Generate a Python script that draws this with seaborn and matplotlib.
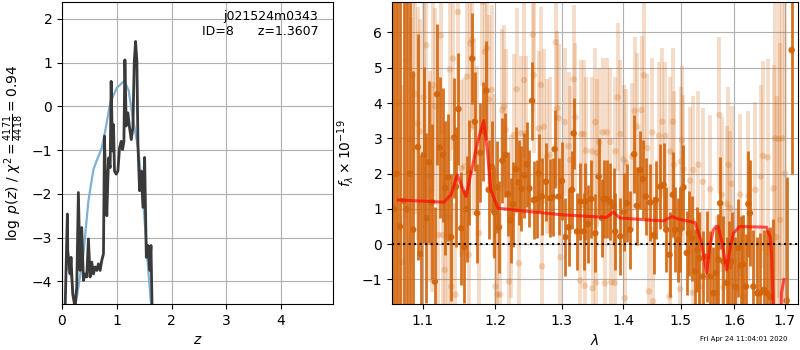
import numpy as np
import matplotlib
matplotlib.use("Agg")
import matplotlib.pyplot as plt
from matplotlib.ticker import FixedLocator, FormatStrFormatter, NullLocator
import seaborn as sns

# p(z) curve (black) and smooth prior-like curve (blue)
z_pz = [0.05, 0.098, 0.105, 0.147, 0.165, 0.195, 0.238, 0.269, 0.299, 0.33, 0.36, 0.391,
        0.421, 0.452, 0.482, 0.513, 0.543, 0.574, 0.604, 0.635, 0.665, 0.696, 0.726, 0.757,
        0.775, 0.80, 0.818, 0.849, 0.879, 0.897, 0.922, 0.94, 0.958, 0.989, 1.02, 1.05,
        1.081, 1.105, 1.13, 1.148, 1.172, 1.203, 1.233, 1.264, 1.294, 1.319, 1.343, 1.367,
        1.386, 1.416, 1.447, 1.478, 1.508, 1.539, 1.569, 1.60, 1.624, 1.65]
logp_pz = [-5.0, -2.46, -3.30, -3.83, -3.45, -4.28, -4.6, -4.13, -1.97, -3.75, -2.77, -3.98,
           -3.83, -3.9, -3.03, -3.9, -3.56, -3.83, -3.67, -3.75, -3.60, -3.75, -3.52, -3.37,
           -0.68, -2.01, -2.5, -1.18, -1.4, 0.57, -1.02, -0.42, -1.48, -1.55, -1.48, -0.95,
           -0.80, -0.99, -0.80, 1.06, -0.45, -0.15, -0.49, -0.76, -0.49, 1.02, 1.48, 1.02,
           -0.87, -1.93, -1.48, -2.31, -1.17, -3.45, -3.18, -3.75, -3.18, -5.0]

z_smooth = [0.085, 0.134, 0.208, 0.238, 0.299, 0.391, 0.482, 0.574, 0.665, 0.726, 0.788,
            0.879, 1.0, 1.136, 1.215, 1.276, 1.398, 1.49, 1.58, 1.624, 1.70]
logp_smooth = [-3.75, -3.52, -4.28, -4.6, -4.13, -3.37, -2.16, -1.44, -1.14, -0.95, -0.57,
               0.07, 0.42, 0.58, 0.37, -0.13, -1.03, -2.31, -3.83, -4.5, -6.0]

# spectrum, main points
wave_d = [1.062, 1.066, 1.070, 1.0752, 1.0787, 1.083, 1.0874, 1.0935, 1.0970, 1.1014,
          1.1045, 1.1080, 1.1120, 1.1159, 1.1190, 1.1226, 1.1270, 1.1300, 1.1340, 1.1380,
          1.1422, 1.1449, 1.1481, 1.1521, 1.1558, 1.1595, 1.1627, 1.1673, 1.1710, 1.1742,
          1.1789, 1.1830, 1.1873, 1.1906, 1.1950, 1.1990, 1.2026, 1.2054, 1.2103, 1.2146,
          1.2185, 1.2225, 1.2260, 1.2306, 1.2345, 1.2385, 1.2430, 1.2464, 1.2503, 1.2543,
          1.2569, 1.2619, 1.2644, 1.2695, 1.2756, 1.2823, 1.2860, 1.2890, 1.2952, 1.3004,
          1.3056, 1.3108, 1.3161, 1.3187, 1.3240, 1.3293, 1.3346, 1.3373, 1.3416, 1.3470,
          1.3535, 1.3589, 1.3643, 1.3670, 1.3725, 1.3780, 1.3835, 1.3863, 1.3946, 1.4002,
          1.4058, 1.4114, 1.4182, 1.4228, 1.4285, 1.4331, 1.4383, 1.4458, 1.4516, 1.4558,
          1.4634, 1.4692, 1.4739, 1.4798, 1.4857, 1.4899, 1.4950, 1.4988, 1.5049, 1.5109,
          1.5150, 1.5200, 1.5261, 1.5300, 1.5341, 1.5402, 1.5476, 1.5538, 1.5600, 1.5650,
          1.5694, 1.5726, 1.5789, 1.5852, 1.5900, 1.5948, 1.6012, 1.6076, 1.6120, 1.6160,
          1.6225, 1.6270, 1.6300, 1.6368, 1.6447, 1.6500, 1.6579, 1.6632, 1.6700, 1.6752,
          1.7036, 1.7139]
flux_d = [1.0, 2.0, 0.5, 1.23, 0.99, 2.0, 0.41, 2.75, -0.27, 2.53,
          0.74, 2.32, 1.20, -1.06, 4.25, 2.74, 2.53, 1.59, 1.90, 0.20,
          3.02, 1.63, 3.83, 0.45, -0.07, 1.00, 2.03, 5.26, 3.47, 0.88,
          2.59, 3.20, 4.35, 1.54, 2.20, 0.90, 1.61, 0.48, 2.37, 2.53,
          1.42, 0.67, 1.13, 2.12, 1.75, 1.57, 1.95, 2.26, 1.58, 4.06,
          1.25, 1.28, 2.01, 1.35, 1.77, 1.30, 1.33, 2.69, 1.35, 1.79,
          0.20, 0.48, 1.54, 3.14, 0.36, 1.21, 0.36, 1.21, 0.57, 1.28,
          0.31, 1.92, 0.74, 1.28, 1.28, 1.21, 1.07, 0.36, 0.22, 0.92,
          1.16, 0.41, 2.55, 1.09, 2.10, 1.85, 1.35, 1.18, 0.25, 1.25,
          1.63, 1.68, 0.41, -0.30, 1.40, 0.41, 0.12, 0.42, 1.61, -0.25,
          0.31, 0.17, -0.77, -0.16, -0.40, -0.92, -0.35, -0.92, -1.39, -0.82,
          -0.44, 1.16, -0.49, -1.10, -0.63, -0.49, -1.20, -0.11, -0.60, -0.58,
          -1.20, 1.14, 0.88, -1.20, -1.39, -1.39, -1.29, -1.39, -1.50, -1.80,
          -1.60, 5.50]
err_d = [9.0, 8.0, 7.5, 6.5, 6.0, 5.0, 4.5, 3.2, 2.8, 2.5,
         2.4, 2.3, 2.2, 2.1, 2.0, 2.0, 1.9, 1.9, 1.8, 1.8,
         1.7, 1.7, 1.6, 1.6, 1.6, 1.5, 1.5, 1.3, 1.4, 1.4,
         1.4, 1.4, 1.4, 1.4, 1.3, 1.3, 1.3, 1.3, 1.2, 1.2,
         1.2, 1.2, 1.2, 1.2, 1.2, 1.2, 1.2, 1.2, 1.1, 1.1,
         1.1, 1.1, 1.1, 1.1, 1.1, 1.1, 1.1, 1.1, 1.1, 1.1,
         1.1, 1.1, 1.1, 1.0, 1.1, 1.1, 1.1, 1.1, 1.1, 1.1,
         1.1, 1.1, 1.1, 1.1, 1.1, 1.1, 1.1, 1.1, 1.1, 1.1,
         1.1, 1.1, 1.1, 1.1, 1.1, 1.1, 1.1, 1.1, 1.1, 1.1,
         1.2, 1.2, 1.2, 1.2, 1.2, 1.2, 1.2, 1.2, 1.2, 1.2,
         1.2, 1.2, 1.2, 1.2, 1.3, 1.3, 1.3, 1.3, 1.3, 1.3,
         1.3, 1.3, 1.3, 1.3, 1.3, 1.4, 1.4, 1.4, 1.4, 1.4,
         1.5, 1.5, 1.5, 1.6, 1.6, 1.7, 1.7, 1.8, 2.0, 2.5,
         3.5, 3.5]

# spectrum, faint points
wave_l = [1.0640, 1.0680, 1.0730, 1.0780, 1.0839, 1.0869, 1.0903, 1.0933, 1.0958, 1.1010,
          1.1045, 1.1089, 1.1120, 1.1141, 1.1163, 1.1207, 1.1242, 1.1265, 1.1295, 1.1339,
          1.1362, 1.1384, 1.1406, 1.1440, 1.1474, 1.1519, 1.1564, 1.1601, 1.1625, 1.1647,
          1.1670, 1.1702, 1.1734, 1.1770, 1.1818, 1.1851, 1.1879, 1.1912, 1.1950, 1.1983,
          1.2005, 1.2031, 1.2070, 1.2103, 1.2128, 1.2152, 1.2200, 1.2225, 1.2274, 1.2313,
          1.2348, 1.2373, 1.2423, 1.2448, 1.2554, 1.2569, 1.2645, 1.2680, 1.2695, 1.2721,
          1.2771, 1.2822, 1.2909, 1.2930, 1.2952, 1.2980, 1.3045, 1.3106, 1.3133, 1.3187,
          1.3213, 1.3292, 1.3308, 1.3346, 1.3362, 1.3383, 1.3481, 1.3490, 1.3535, 1.3545,
          1.3562, 1.3600, 1.3655, 1.3690, 1.3726, 1.3782, 1.3799, 1.3854, 1.3865, 1.3904,
          1.3949, 1.4005, 1.4022, 1.4045, 1.4147, 1.4193, 1.4233, 1.4308, 1.4348, 1.4406,
          1.4435, 1.4493, 1.4510, 1.4610, 1.4669, 1.4721, 1.4798, 1.4810, 1.4857, 1.4881,
          1.4988, 1.5000, 1.5018, 1.5049, 1.5170, 1.5218, 1.5230, 1.5322, 1.5353, 1.5402,
          1.5539, 1.5663, 1.5714, 1.5758, 1.5790, 1.5852, 1.5884, 1.5916, 1.5948, 1.6044,
          1.6109, 1.6174, 1.6271, 1.6409, 1.6515, 1.6555, 1.6649, 1.6770, 1.6804, 1.6830,
          1.6872, 1.6906, 1.6950, 1.7000]
flux_l = [2.0, 4.0, -0.5, 5.2, 2.95, 4.79, 4.25, 3.42, 3.19, 4.16,
          5.64, 1.92, 1.54, 4.51, 3.90, 0.26, 5.91, 0.26, -0.73, 0.78,
          4.95, -1.20, 5.26, -1.43, 6.58, 2.15, 2.20, 4.75, -0.30, 5.69,
          5.78, 3.33, 2.56, 0.31, 6.87, 5.45, 5.55, 4.10, 4.37, 1.96,
          -1.20, -1.43, -1.43, 3.80, 3.90, 3.24, -1.06, 0.78, 3.09, 4.39,
          -0.54, 3.14, 4.65, 3.14, 5.94, 4.79, 3.28, 4.51, -0.63, 3.33,
          2.48, 2.53, 5.72, 3.85, 3.57, -0.37, 3.46, 2.78, 2.39, 4.67,
          3.59, -1.03, 3.12, 3.12, -1.18, 2.65, 2.63, -1.25, 3.46, -1.09,
          2.59, 2.89, 3.17, -1.11, 3.17, 2.90, -1.08, -1.10, 2.63, 4.16,
          3.12, 2.40, -1.53, 2.31, 2.48, 3.78, 3.33, 3.80, 4.79, 2.72,
          -1.34, 3.17, -1.62, 3.07, 3.47, 3.07, -1.48, 2.63, 3.47, 2.25,
          -1.27, 2.34, 2.95, 2.13, 1.80, -1.37, 2.10, 2.25, -1.20, 1.77,
          1.56, -1.39, 3.66, 1.40, -1.22, 1.14, 2.25, 1.02, 1.71, -1.28,
          1.40, -1.48, 1.37, 1.54, 1.92, 2.50, 2.46, 1.58, 3.00, 0.20,
          2.98, 0.69, 3.0, 2.0]
err_l = [6.0, 6.0, 5.0, 4.5, 3.5, 3.5, 3.4, 3.3, 3.2, 3.0,
         3.0, 3.0, 2.9, 2.9, 2.8, 2.8, 2.8, 2.7, 2.7, 2.7,
         2.6, 2.6, 2.6, 2.6, 2.6, 2.5, 2.5, 2.5, 2.5, 2.5,
         2.5, 2.5, 2.5, 2.4, 2.4, 2.4, 2.4, 2.4, 2.4, 2.3,
         2.3, 2.3, 2.3, 2.3, 2.3, 2.3, 2.3, 2.3, 2.3, 2.3,
         2.2, 2.2, 2.2, 2.2, 2.2, 2.2, 2.2, 2.2, 2.2, 2.2,
         2.2, 2.2, 2.2, 2.2, 2.1, 2.1, 2.1, 2.1, 2.1, 2.1,
         2.1, 2.1, 2.1, 2.1, 2.1, 2.1, 2.1, 2.1, 2.1, 2.1,
         2.1, 2.1, 2.1, 2.1, 2.1, 2.1, 2.1, 2.1, 2.1, 2.1,
         2.1, 2.1, 2.1, 2.1, 2.1, 2.1, 2.1, 2.1, 2.1, 2.1,
         2.1, 2.1, 2.1, 2.1, 2.1, 2.1, 2.1, 2.1, 2.1, 2.1,
         2.1, 2.1, 2.1, 2.1, 2.1, 2.1, 2.1, 2.1, 2.1, 2.1,
         2.1, 2.2, 2.2, 2.2, 2.2, 2.2, 2.2, 2.2, 2.2, 2.3,
         2.3, 2.3, 2.4, 2.5, 2.6, 2.7, 2.8, 3.5, 4.0, 4.0,
         4.5, 5.0, 6.0, 6.0]

# best-fit model
wave_m = [1.068, 1.071, 1.128, 1.138, 1.1464, 1.1587, 1.1661, 1.175, 1.1836, 1.1890,
          1.1937, 1.2038, 1.252, 1.302, 1.372, 1.383, 1.394, 1.469, 1.484, 1.496,
          1.526, 1.537, 1.5475, 1.553, 1.560, 1.565, 1.569, 1.577, 1.585, 1.592,
          1.598, 1.610, 1.663, 1.670, 1.673, 1.676, 1.680, 1.690, 1.693, 1.698]
flux_m = [1.25, 1.25, 1.19, 1.4, 1.96, 1.35, 2.06, 2.9, 3.50, 2.6,
          1.54, 1.02, 0.92, 0.83, 0.76, 0.91, 0.74, 0.66, 0.78, 0.71,
          0.61, 0.1, -0.82, -0.1, 0.41, 0.50, 0.50, 0.0, -0.73, -0.1,
          0.31, 0.50, 0.48, 0.2, -0.25, -1.58, -3.0, -3.0, -1.4, -1.0]

spec_color = "#d2640a"

fig = plt.figure(figsize=(8, 3.5), dpi=100)
ax1 = fig.add_axes([0.0775, 0.131, 0.339, 0.863])
ax2 = fig.add_axes([0.49, 0.131, 0.5075, 0.863])

# left panel: p(z)
sns.lineplot(x=z_smooth, y=logp_smooth, ax=ax1, color="#7fb0d6", lw=1.6, sort=False)
sns.lineplot(x=z_pz, y=logp_pz, ax=ax1, color="#3a3a3a", lw=2, sort=False)
ax1.set_xlim(0, 4.95)
ax1.set_ylim(-4.52, 2.38)
ax1.set_xticks([0, 1, 2, 3, 4])
ax1.set_yticks([-4, -3, -2, -1, 0, 1, 2])
ax1.grid(True)
ax1.set_xlabel("$z$")
ax1.set_ylabel(r"$\log\ p(z)$ / $\chi^2=\frac{4171}{4418}=0.94$")
ax1.text(0.945, 0.975, "j021524m0343\n" + "ID={0:<5d}  z={1:.4f}".format(8, 1.3607),
         ha="right", va="top", transform=ax1.transAxes, fontsize=9)

# right panel: spectrum
ax2.errorbar(wave_l, flux_l, yerr=err_l, fmt="none", ecolor=spec_color, alpha=0.22, lw=2.8)
sns.scatterplot(x=wave_l, y=flux_l, ax=ax2, color=spec_color, alpha=0.25, s=22, edgecolor="none")
ax2.errorbar(wave_d, flux_d, yerr=err_d, fmt="none", ecolor=spec_color, alpha=0.9, lw=2.0)
sns.scatterplot(x=wave_d, y=flux_d, ax=ax2, color=spec_color, alpha=0.95, s=22, edgecolor="none")
sns.lineplot(x=wave_m, y=flux_m, ax=ax2, color="red", alpha=0.65, lw=2.2, sort=False)
ax2.axhline(0, color="k", ls=":", lw=1.5)

ax2.set_xscale("log")
ax2.set_xlim(1.06, 1.727)
ax2.set_ylim(-1.70, 6.86)
ax2.xaxis.set_major_locator(FixedLocator([1.1, 1.2, 1.3, 1.4, 1.5, 1.6, 1.7]))
ax2.xaxis.set_major_formatter(FormatStrFormatter("%.1f"))
ax2.xaxis.set_minor_locator(NullLocator())
ax2.set_yticks([-1, 0, 1, 2, 3, 4, 5, 6])
ax2.grid(True)
ax2.set_xlabel(r"$\lambda$")
ax2.set_ylabel(r"$f_\lambda\times10^{-19}$")

fig.text(0.985, 0.031, "Fri Apr 24 11:04:01 2020", ha="right", va="center", fontsize=5)

fig.savefig("out.png", dpi=100)
